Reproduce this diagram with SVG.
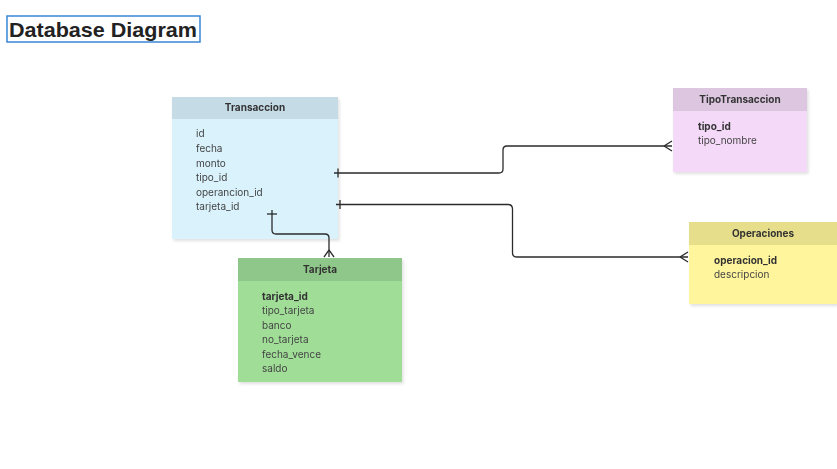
<svg xmlns="http://www.w3.org/2000/svg" width="837" height="469" viewBox="0 0 837 469">
<defs>
<filter id="sh" x="-10%" y="-10%" width="130%" height="130%">
<feDropShadow dx="1.5" dy="2" stdDeviation="1.5" flood-color="#000" flood-opacity="0.12"/>
</filter>
<style>
.hd{font-family:Inter,"Liberation Sans",sans-serif;font-size:10px;font-weight:700;fill:#333;text-anchor:middle}
.f{font-family:Inter,"Liberation Sans",sans-serif;font-size:10px;fill:#444}
.k{font-family:Inter,"Liberation Sans",sans-serif;font-size:10px;font-weight:700;fill:#333}
.c{fill:none;stroke:#2b2b2b;stroke-width:1.3}
</style>
</defs>
<rect width="837" height="469" fill="#fff"/>
<g id="title">
<rect x="7" y="16" width="193" height="26" fill="none" stroke="#3a86d6" stroke-width="1.5"/>
<text x="9" y="37" font-family="Liberation Sans,Arial,sans-serif" font-size="21" font-weight="700" fill="#222" textLength="188" lengthAdjust="spacingAndGlyphs">Database Diagram</text>
</g>
<g id="Transaccion" filter="url(#sh)">
<rect x="172" y="97" width="166" height="142" fill="#d9f2fc"/>
<rect x="172" y="97" width="166" height="22" fill="#c5dce6"/>
<text class="hd" x="255" y="111">Transaccion</text>
<text class="f" x="196" y="137">id</text>
<text class="f" x="196" y="152">fecha</text>
<text class="f" x="196" y="167">monto</text>
<text class="f" x="196" y="181">tipo_id</text>
<text class="f" x="196" y="196">operancion_id</text>
<text class="f" x="196" y="210">tarjeta_id</text>
</g>
<g id="Tarjeta" filter="url(#sh)">
<rect x="238" y="258" width="164" height="124" fill="#a0de98"/>
<rect x="238" y="258" width="164" height="23" fill="#8fc78a"/>
<text class="hd" x="320" y="273">Tarjeta</text>
<text class="k" x="262" y="300">tarjeta_id</text>
<text class="f" x="262" y="314">tipo_tarjeta</text>
<text class="f" x="262" y="329">banco</text>
<text class="f" x="262" y="343">no_tarjeta</text>
<text class="f" x="262" y="358">fecha_vence</text>
<text class="f" x="262" y="372">saldo</text>
</g>
<g id="TipoTransaccion" filter="url(#sh)">
<rect x="673" y="88" width="134" height="84" fill="#f5d9f8"/>
<rect x="673" y="88" width="134" height="23" fill="#dcc6e0"/>
<text class="hd" x="740" y="103">TipoTransaccion</text>
<text class="k" x="698" y="130">tipo_id</text>
<text class="f" x="698" y="144">tipo_nombre</text>
</g>
<g id="Operaciones" filter="url(#sh)">
<rect x="689" y="222" width="148" height="82" fill="#fff59d"/>
<rect x="689" y="222" width="148" height="23" fill="#e6de8a"/>
<text class="hd" x="763" y="237">Operaciones</text>
<text class="k" x="714" y="264">operacion_id</text>
<text class="f" x="714" y="278">descripcion</text>
</g>
<g id="connectors">
<path class="c" d="M334 173 H499 Q503 173 503 169 V150 Q503 146 507 146 H672"/>
<path class="c" d="M338 168.5 V177.5"/>
<path class="c" d="M664 146 L672 141 M664 146 L672 151"/>
<path class="c" d="M336 204.5 H508 Q512.5 204.5 512.5 209 V253 Q512.5 257 517 257 H688"/>
<path class="c" d="M340 200 V209"/>
<path class="c" d="M680 257 L688 252 M680 257 L688 262"/>
<path class="c" d="M272 210 V230 Q272 234 276 234 H325 Q329 234 329 238 V257"/>
<path class="c" d="M267 214 H277"/>
<path class="c" d="M329 250 L324 257 M329 250 L334 257"/>
</g>
</svg>
